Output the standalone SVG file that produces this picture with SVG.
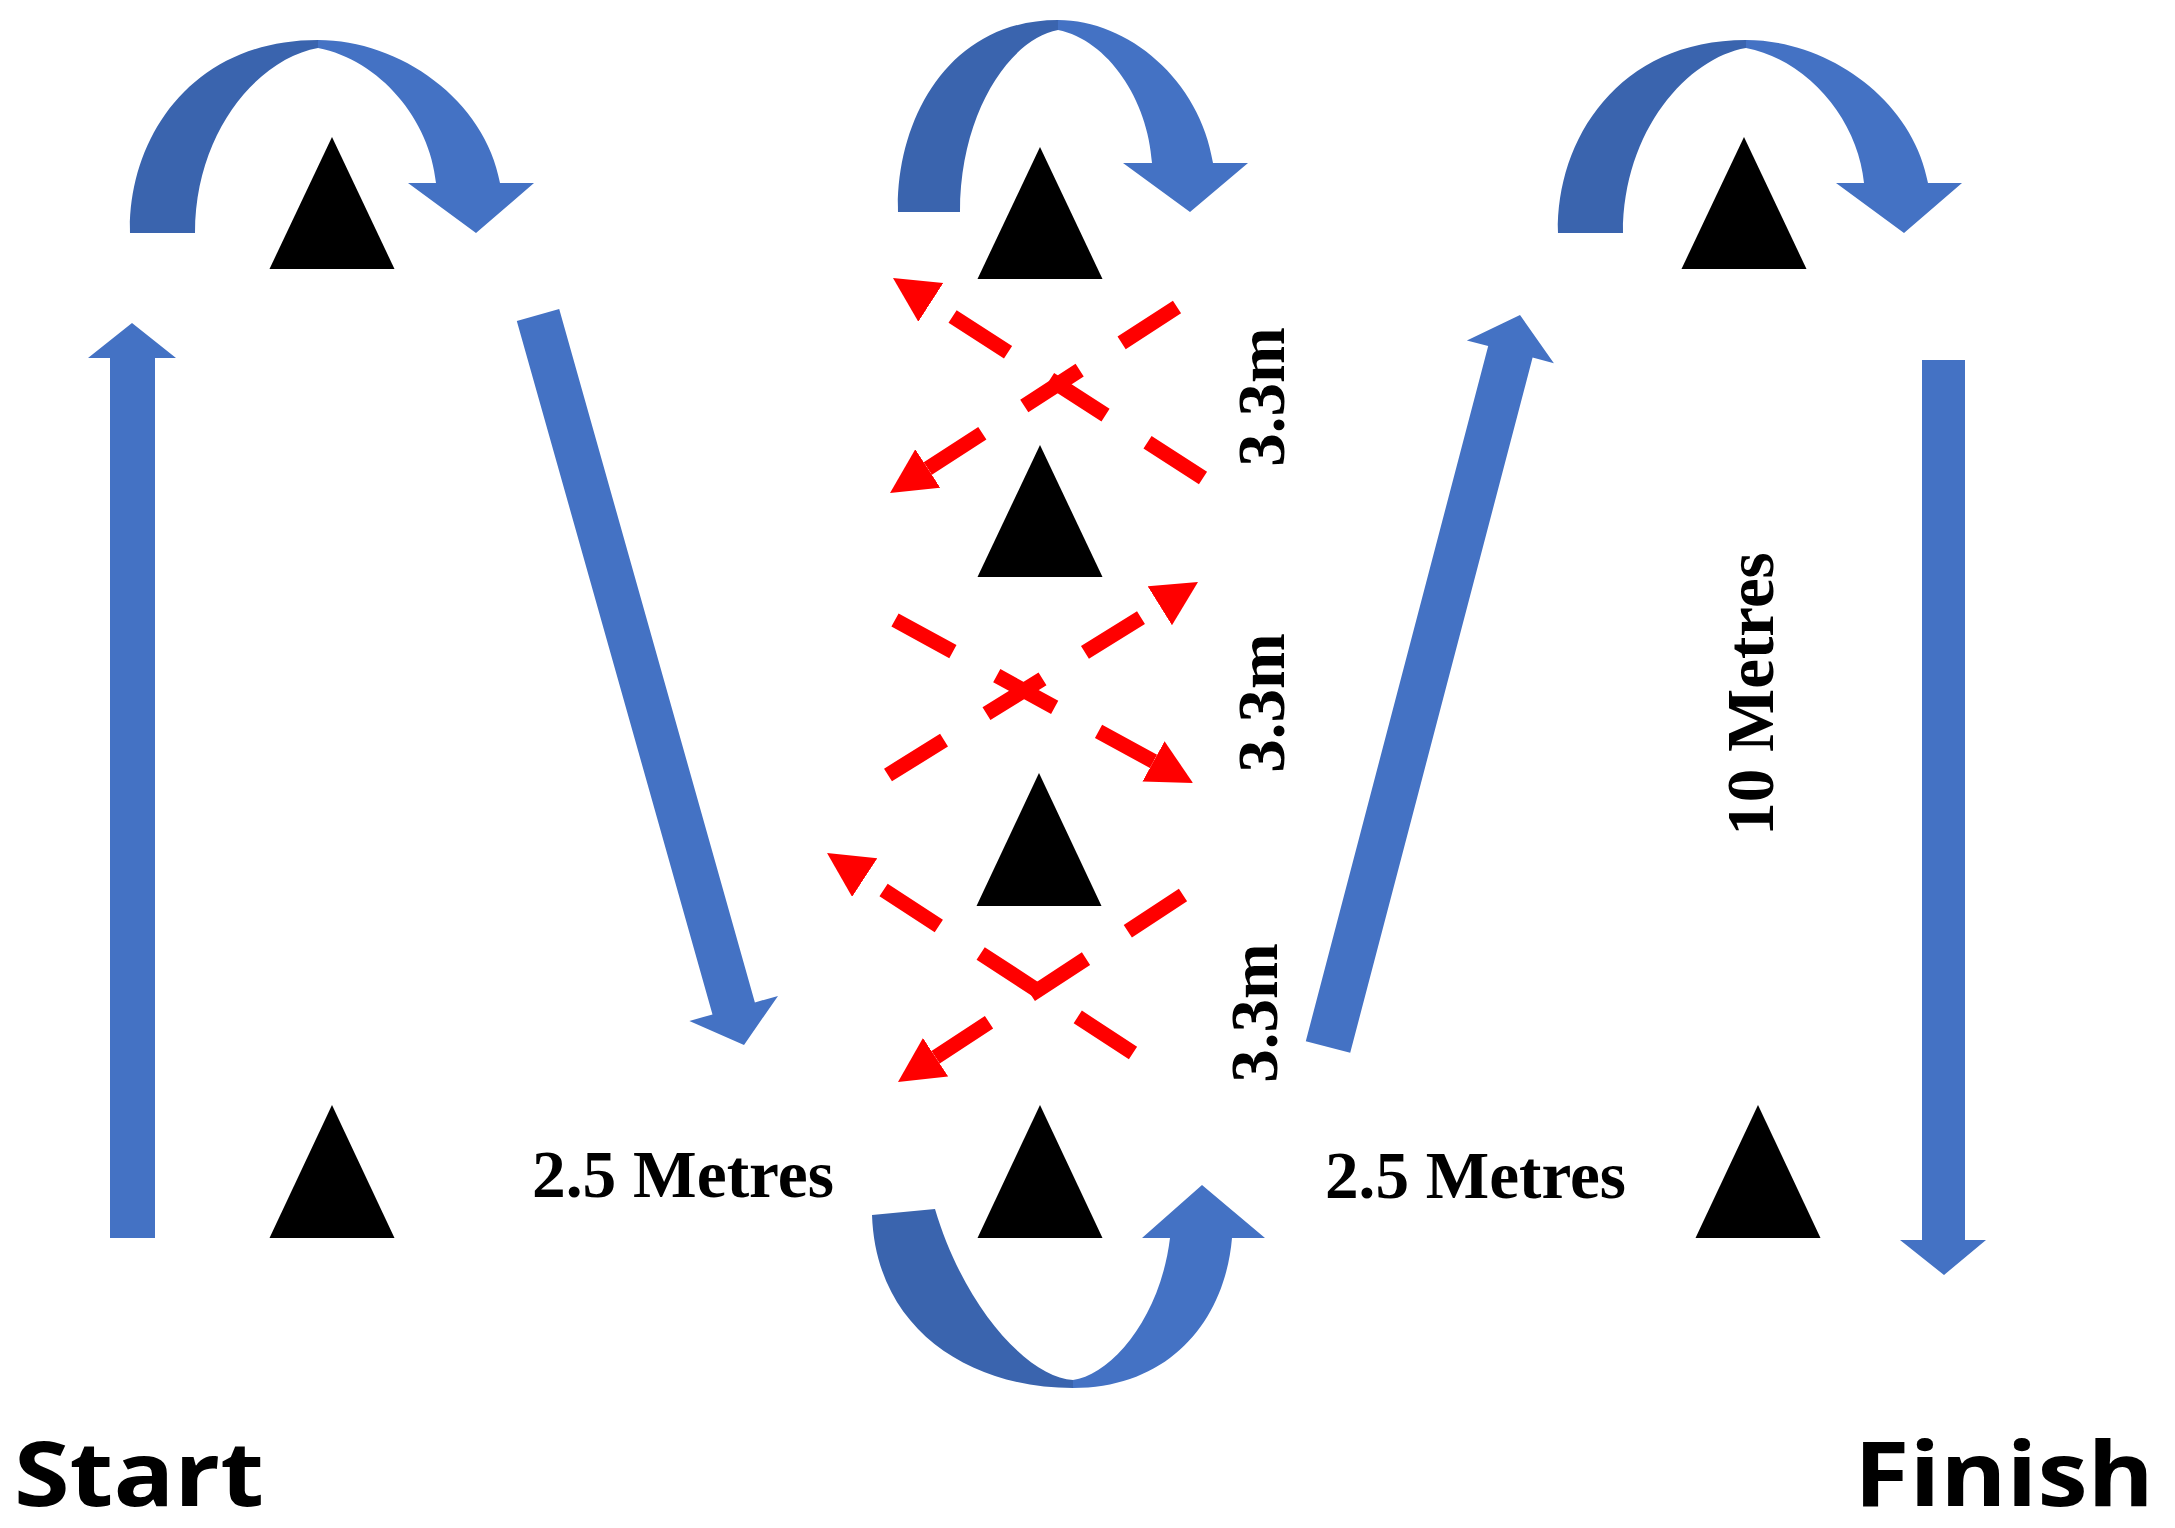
<svg xmlns="http://www.w3.org/2000/svg" width="2175" height="1528" viewBox="0 0 2175 1528">
<style>
.cone{fill:#000}
.blue{fill:#4472C4}
.dark{fill:#3A64AE}
.dash{fill:none;stroke:#FF0000;stroke-width:15;stroke-dasharray:66 50;stroke-linecap:butt}
.lbl{font-family:"Liberation Serif","Times New Roman",serif;font-weight:bold;font-size:67px;fill:#000}
.big{font-family:"Open Sans","Liberation Sans",sans-serif;font-weight:bold;font-size:90px;fill:#000}
</style>
<defs>
<marker id="rh" markerUnits="userSpaceOnUse" markerWidth="50" markerHeight="50" refX="0" refY="23" orient="auto" viewBox="0 0 50 50">
<path d="M0,0 L45,23 L0,46 Z" fill="#FF0000"/>
</marker>
<g id="overturn">
<path class="dark" d="M130,233 C128,140 190,40 318,40 L318,48 C260,58 195,130 195,233 Z"/>
<path class="blue" d="M318,40 C400,40 485,100 500,183 L534,183 L476,233 L408,183 L436,183 C430,120 380,60 318,48 Z"/>
</g>
</defs>
<rect width="2175" height="1528" fill="#fff"/>

<g id="connectors">
<g id="turn-top-left"><use href="#overturn"/></g>
<g id="turn-top-mid">
<path class="dark" d="M898,212 C896,119 949,20 1058,20 L1058,30 C1012,38 960,110 960,212 Z"/>
<path class="blue" d="M1058,20 C1128,20 1200,80 1213,163 L1248,163 L1190,212 L1123,163 L1152,163 C1148,100 1108,40 1058,30 Z"/>
</g>
<g id="turn-top-right"><use href="#overturn" transform="translate(1428,0)"/></g>
<g id="turn-bottom-mid">
<path class="dark" d="M872,1215 L935,1209 C965,1310 1030,1378 1073,1380 L1073,1388 C970,1388 876,1330 872,1215 Z"/>
<path class="blue" d="M1073,1388 C1170,1388 1225,1320 1232,1238 L1265,1238 L1202,1185 L1142,1238 L1170,1238 C1160,1320 1110,1375 1073,1380 Z"/>
</g>
<polygon id="run-up" class="blue" points="110,1238 155,1238 155,358 176,358 132,323 88,358 110,358"/>
<polygon id="run-down" class="blue" points="1922,360 1965,360 1965,1240 1986,1240 1944,1275 1900,1240 1922,1240"/>
<polygon id="diag-down" class="blue" points="516.8,321 559.2,309 754.9,1002.4 778,995.9 744,1045 689.4,1020.9 712.5,1014.4"/>
<polygon id="diag-up" class="blue" points="1305.8,1041.2 1350.2,1052.8 1532.6,357.6 1553.9,363.2 1520,315 1466.9,340.4 1488.2,346"/>
<g id="red-dashes">
<path class="dash" d="M1203,478 L930.8,302.4" marker-end="url(#rh)"/>
<path class="dash" d="M1177,307 L927.8,468.5" marker-end="url(#rh)"/>
<path class="dash" d="M888,775 L1159.8,605.8" marker-end="url(#rh)"/>
<path class="dash" d="M895,620 L1153.5,761.4" marker-end="url(#rh)"/>
<path class="dash" d="M1133,1053 L864.7,877.6" marker-end="url(#rh)"/>
<path class="dash" d="M1183,895 L935.6,1057.3" marker-end="url(#rh)"/>
</g>
</g>

<g id="cone-1"><polygon class="cone" points="332,137 269.5,269 394.5,269"/></g>
<g id="cone-2"><polygon class="cone" points="1040,147 977.5,279 1102.5,279"/></g>
<g id="cone-3"><polygon class="cone" points="1744,137 1681.5,269 1806.5,269"/></g>
<g id="cone-4"><polygon class="cone" points="1040,445 977.5,577 1102.5,577"/></g>
<g id="cone-5"><polygon class="cone" points="1039,773 976.5,906 1101.5,906"/></g>
<g id="cone-6"><polygon class="cone" points="332,1105 269.5,1238 394.5,1238"/></g>
<g id="cone-7"><polygon class="cone" points="1040,1105 977.5,1238 1102.5,1238"/></g>
<g id="cone-8"><polygon class="cone" points="1758,1105 1695.5,1238 1820.5,1238"/></g>

<g id="label-25-left"><text class="lbl" x="532" y="1197" textLength="302" lengthAdjust="spacingAndGlyphs">2.5 Metres</text></g>
<g id="label-25-right"><text class="lbl" x="1325" y="1198" textLength="301" lengthAdjust="spacingAndGlyphs">2.5 Metres</text></g>
<g id="label-33-a"><text class="lbl" text-anchor="middle" transform="translate(1284,397) rotate(-90)">3.3m</text></g>
<g id="label-33-b"><text class="lbl" text-anchor="middle" transform="translate(1284,703) rotate(-90)">3.3m</text></g>
<g id="label-33-c"><text class="lbl" text-anchor="middle" transform="translate(1277,1013) rotate(-90)">3.3m</text></g>
<g id="label-10"><text class="lbl" text-anchor="middle" transform="translate(1773,694) rotate(-90)">10 Metres</text></g>
<g id="start"><text class="big" x="14" y="1506" textLength="250" lengthAdjust="spacingAndGlyphs">Start</text></g>
<g id="finish"><text class="big" x="1854" y="1506" textLength="300" lengthAdjust="spacingAndGlyphs">Finish</text></g>
</svg>
